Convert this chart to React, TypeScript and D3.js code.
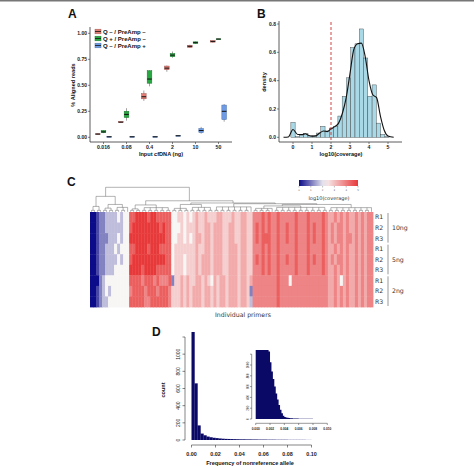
import React, { useRef, useEffect } from 'react';
import * as d3 from 'd3';

const W = 476;
const H = 466;
const SANS = 'Liberation Sans, Arial, sans-serif';
const DEJA = 'DejaVu Sans, sans-serif';

// ---- Panel A: % aligned reads by input cfDNA ----
const doses = ['0.016', '0.08', '0.4', '2', '10', '50'];
const conditions = ['Q – / PreAmp –', 'Q + / PreAmp –', 'Q – / PreAmp +'];
const condColors = ['#e27b72', '#27a641', '#6d9ce6'];
// [min, q1, median, q3, max] per dose
const boxQmPm = [[0.025, 0.028, 0.031, 0.034, 0.036], [0.14, 0.142, 0.146, 0.15, 0.152], [0.35, 0.37, 0.39, 0.42, 0.45], [0.63, 0.65, 0.665, 0.685, 0.69], [0.86, 0.865, 0.875, 0.885, 0.89], [0.91, 0.915, 0.922, 0.93, 0.932]];
const boxQpPm = [[0.04, 0.045, 0.052, 0.065, 0.068], [0.16, 0.19, 0.22, 0.25, 0.28], [0.49, 0.52, 0.56, 0.64, 0.645], [0.765, 0.775, 0.79, 0.805, 0.825], [0.9, 0.902, 0.91, 0.918, 0.92], [0.945, 0.945, 0.945, 0.946, 0.946]];
const boxQmPp = [[0.002, 0.003, 0.005, 0.006, 0.007], [0.002, 0.003, 0.005, 0.006, 0.007], [0.003, 0.004, 0.005, 0.006, 0.007], [0.012, 0.013, 0.015, 0.016, 0.017], [0.035, 0.045, 0.065, 0.085, 0.1], [0.15, 0.17, 0.25, 0.31, 0.32]];
const alignTicks = [0, 0.25, 0.5, 0.75, 1];

// ---- Panel B: coverage histogram + density ----
const covBinCenters = [0, 0.225, 0.45, 0.675, 0.9, 1.125, 1.35, 1.575, 1.8, 2.025, 2.25, 2.475, 2.7, 2.925, 3.15, 3.375, 3.6, 3.825, 4.05, 4.275, 4.5, 4.725, 4.95];
const covBinDensity = [0.105, 0.005, 0.015, 0.025, 0.01, 0.01, 0.03, 0.078, 0.045, 0.065, 0.075, 0.15, 0.29, 0.42, 0.635, 0.66, 0.765, 0.56, 0.29, 0.37, 0.1, 0.02, 0.005];
const covBinWidth = 0.225;
const densX = [-0.5, -0.25, 0, 0.25, 0.5, 0.65, 0.8, 1.0, 1.2, 1.4, 1.6, 1.8, 2.0, 2.2, 2.4, 2.6, 2.8, 3.0, 3.2, 3.4, 3.6, 3.8, 4.0, 4.2, 4.4, 4.6, 4.8, 5.0, 5.3];
const densY = [0, 0.002, 0.055, 0.02, 0.02, 0.025, 0.015, 0.008, 0.01, 0.03, 0.045, 0.04, 0.06, 0.075, 0.1, 0.17, 0.28, 0.45, 0.62, 0.66, 0.665, 0.57, 0.4, 0.3, 0.28, 0.15, 0.05, 0.01, 0];
const covTicksX = [0, 1, 2, 3, 4, 5];
const covTicksY = [0, 0.2, 0.4, 0.6, 0.8];
const covCutoff = 2;

// ---- Panel C: heatmap of primer coverage ----
const heatRowLabels = ['R1', 'R2', 'R3', 'R1', 'R2', 'R3', 'R1', 'R2', 'R3'];
const heatGroups = ['10ng', '5ng', '2ng'];
// one digit per primer column, 0 = low coverage ... 9 = high coverage
const heatLevels = [
  '001' + '2233334344' + '88999989988888' + '445545456556555665556556655' + '7778787787777787778777787' + '667676766767677',
  '001' + '2233333344' + '89999999998988' + '444545556556656665566556655' + '7878787787787787778787787' + '676776766767677',
  '001' + '2223334344' + '99999999999988' + '445545456656656665566556655' + '7878887787787787778787787' + '676776776767677',
  '001' + '2233343444' + '88999989998888' + '455555556556656665566656655' + '7778787787777787778777787' + '667676766767677',
  '001' + '2233334344' + '89999999999988' + '455545556566656665566656655' + '7878787787787787778787787' + '676776766767677',
  '001' + '2233344444' + '99998999988888' + '455545556566656665566656655' + '7778787787777787778777787' + '667676766767677',
  '000' + '2344444444' + '88887888787778' + '255656556656546566566656656' + '7777777787774777777777777' + '667646766767677',
  '001' + '2343444444' + '78888788878887' + '555656566656656566566656652' + '7777777787777777777777777' + '667676766767677',
  '001' + '2334444444' + '88888778888887' + '555656566656656566566656653' + '7777777787777777777777777' + '667676766767677',
];
const legendTicks = [0, 1, 2, 3, 4, 5];
// column clustering: r = range of columns merged at height h
const dendro = {
  h: 1, c: [
    { h: 0.63, c: [{ h: 0.22, r: [0, 3] }, { h: 0.3, c: [{ h: 0.15, r: [4, 7] }, { h: 0.18, r: [8, 12] }] }] },
    { h: 0.45, c: [
      { h: 0.28, c: [{ h: 0.12, r: [13, 16] }, { h: 0.17, r: [17, 26] }] },
      { h: 0.36, c: [
        { h: 0.3, c: [{ h: 0.14, r: [27, 32] }, { h: 0.18, r: [33, 40] }] },
        { h: 0.33, c: [
          { h: 0.2, r: [41, 53] },
          { h: 0.3, c: [{ h: 0.24, c: [{ h: 0.14, r: [54, 60] }, { h: 0.18, r: [61, 78] }] }, { h: 0.17, r: [79, 93] }] },
        ] },
      ] },
    ] },
  ],
};

// ---- Panel D: nonreference allele frequency ----
const freqBinWidth = 0.0025;
const freqCounts = [1500, 660, 170, 75, 55, 40, 32, 26, 22, 18, 15, 13, 12, 11, 10, 9, 8, 8, 7, 7, 6, 6, 5, 5, 5, 4, 4, 4, 3, 3, 3, 3, 2, 2, 2, 2, 2, 2, 1, 1];
const freqTicks = [0, 0.02, 0.04, 0.06, 0.08, 0.1];
const countTicks = [0, 200, 400, 600, 800, 1000, 1200];
const insetBinWidth = 0.0002;
const insetCounts = [1800, 2100, 2300, 2200, 2000, 1800, 1600, 1450, 1350, 1250, 1050, 880, 740, 600, 470, 360, 260, 170, 105, 60, 38, 28, 22, 18, 14, 12, 10, 9, 8, 7, 6, 6, 5, 5, 4, 4, 3, 3, 3, 3, 2, 2, 2, 2, 2, 1, 1, 1, 1, 1];
const insetTicks = [0, 0.002, 0.004, 0.006, 0.008, 0.01];

function label(g, txt, x, y, size) {
  g.append('text').attr('x', x).attr('y', y).text(txt)
    .attr('font-family', SANS).attr('font-weight', 'bold').attr('font-size', size).attr('fill', '#111');
}

function drawA(svg) {
  const g = svg.append('g');
  label(g, 'A', 68, 18, 12);
  const x = d3.scalePoint().domain(doses).range([92, 230]).padding(0.5);
  const dodge = d3.scaleBand().domain(conditions).range([-8.5, 8.5]);
  const y = d3.scaleLinear().domain([0, 1]).range([137.3, 33.3]);
  const ax = '#333';

  g.append('path').attr('d', 'M90,27V142H232').attr('fill', 'none').attr('stroke', ax).attr('stroke-width', 0.8);
  alignTicks.forEach(t => {
    g.append('line').attr('x1', 88).attr('x2', 90).attr('y1', y(t)).attr('y2', y(t)).attr('stroke', ax).attr('stroke-width', 0.6);
    g.append('text').attr('x', 87).attr('y', y(t) + 1.8).attr('text-anchor', 'end').text(d3.format('.2f')(t))
      .attr('font-family', SANS).attr('font-weight', 'bold').attr('font-size', 5).attr('fill', '#222');
  });
  doses.forEach(d => {
    g.append('line').attr('x1', x(d)).attr('x2', x(d)).attr('y1', 142).attr('y2', 144).attr('stroke', ax).attr('stroke-width', 0.6);
    g.append('text').attr('x', x(d)).attr('y', 148.8).attr('text-anchor', 'middle').text(d)
      .attr('font-family', SANS).attr('font-weight', 'bold').attr('font-size', 5.2).attr('fill', '#222');
  });
  g.append('text').attr('x', 161).attr('y', 155.5).attr('text-anchor', 'middle').text('Input cfDNA (ng)')
    .attr('font-family', SANS).attr('font-weight', 'bold').attr('font-size', 5.6).attr('fill', '#111');
  g.append('text').attr('transform', 'translate(75,85) rotate(-90)').attr('text-anchor', 'middle').text('% Aligned reads')
    .attr('font-family', SANS).attr('font-weight', 'bold').attr('font-size', 5.6).attr('fill', '#111');

  const sets = [boxQmPm, boxQpPm, boxQmPp];
  const bw = dodge.bandwidth() * 0.82;
  sets.forEach((set, i) => {
    const col = condColors[i];
    const dark = d3.color(col).darker(0.9).toString();
    set.forEach((s, j) => {
      const cx = x(doses[j]) + dodge(conditions[i]) + dodge.bandwidth() / 2;
      const [mn, q1, md, q3, mx] = s;
      g.append('line').attr('x1', cx).attr('x2', cx).attr('y1', y(mn)).attr('y2', y(mx)).attr('stroke', '#444').attr('stroke-width', 0.5);
      g.append('rect').attr('x', cx - bw / 2).attr('y', y(q3)).attr('width', bw).attr('height', Math.max(0.6, y(q1) - y(q3)))
        .attr('fill', col).attr('stroke', dark).attr('stroke-width', 0.5);
      g.append('line').attr('x1', cx - bw / 2).attr('x2', cx + bw / 2).attr('y1', y(md)).attr('y2', y(md)).attr('stroke', '#111').attr('stroke-width', 1);
    });
  });

  conditions.forEach((c, i) => {
    const ly = 31.5 + i * 7;
    const dark = d3.color(condColors[i]).darker(0.9).toString();
    g.append('rect').attr('x', 95).attr('y', ly - 2.3).attr('width', 6).attr('height', 4.6).attr('fill', condColors[i]).attr('stroke', dark).attr('stroke-width', 0.5);
    g.append('line').attr('x1', 95).attr('x2', 101).attr('y1', ly).attr('y2', ly).attr('stroke', '#111').attr('stroke-width', 0.8);
    g.append('text').attr('x', 103).attr('y', ly + 2.1).text(c)
      .attr('font-family', SANS).attr('font-weight', 'bold').attr('font-size', 6).attr('fill', '#111');
  });
}

function drawB(svg) {
  const g = svg.append('g');
  label(g, 'B', 257, 18, 12);
  const x = d3.scaleLinear().domain([0, 5]).range([293, 388]);
  const y = d3.scaleLinear().domain([0, 0.8]).range([137.3, 24]);
  const ax = '#333';

  covBinCenters.forEach((c, i) => {
    const x0 = x(c - covBinWidth / 2);
    const x1 = x(c + covBinWidth / 2);
    g.append('rect').attr('x', x0).attr('y', y(covBinDensity[i])).attr('width', x1 - x0).attr('height', y(0) - y(covBinDensity[i]))
      .attr('fill', '#a9d8e6').attr('stroke', '#3a3a3a').attr('stroke-width', 0.4);
  });
  const line = d3.line().x(d => x(d[0])).y(d => y(d[1])).curve(d3.curveMonotoneX);
  g.append('path').attr('d', line(densX.map((v, i) => [v, densY[i]]))).attr('fill', 'none').attr('stroke', '#111').attr('stroke-width', 1.1);
  g.append('line').attr('x1', x(covCutoff)).attr('x2', x(covCutoff)).attr('y1', 22).attr('y2', 142)
    .attr('stroke', '#c8302c').attr('stroke-width', 0.9).attr('stroke-dasharray', '3,2');

  g.append('path').attr('d', 'M279,21V142H402').attr('fill', 'none').attr('stroke', ax).attr('stroke-width', 0.8);
  covTicksY.forEach(t => {
    g.append('line').attr('x1', 277).attr('x2', 279).attr('y1', y(t)).attr('y2', y(t)).attr('stroke', ax).attr('stroke-width', 0.6);
    g.append('text').attr('x', 276).attr('y', y(t) + 1.8).attr('text-anchor', 'end').text(d3.format('.1f')(t))
      .attr('font-family', SANS).attr('font-weight', 'bold').attr('font-size', 5).attr('fill', '#222');
  });
  covTicksX.forEach(t => {
    g.append('line').attr('x1', x(t)).attr('x2', x(t)).attr('y1', 142).attr('y2', 144).attr('stroke', ax).attr('stroke-width', 0.6);
    g.append('text').attr('x', x(t)).attr('y', 148.8).attr('text-anchor', 'middle').text(t)
      .attr('font-family', SANS).attr('font-weight', 'bold').attr('font-size', 5.2).attr('fill', '#222');
  });
  g.append('text').attr('x', 341).attr('y', 155.5).attr('text-anchor', 'middle').text('log10(coverage)')
    .attr('font-family', SANS).attr('font-weight', 'bold').attr('font-size', 5.6).attr('fill', '#111');
  g.append('text').attr('transform', 'translate(266,82) rotate(-90)').attr('text-anchor', 'middle').text('density')
    .attr('font-family', SANS).attr('font-weight', 'bold').attr('font-size', 5.6).attr('fill', '#111');
}

function drawC(svg) {
  const g = svg.append('g');
  label(g, 'C', 67, 186, 12);
  const ncol = heatLevels[0].length;
  const x = d3.scaleBand().domain(d3.range(ncol)).range([90, 373]);
  const y = d3.scaleBand().domain(d3.range(heatLevels.length)).range([212, 307]);
  const color = d3.scaleLinear().domain([0, 2.2, 5]).range(['#0c0c8a', '#f8f6f6', '#e8393a']);
  const toCov = ch => (+ch) * 5 / 9;

  heatLevels.forEach((row, r) => {
    row.split('').forEach((ch, c) => {
      g.append('rect').attr('x', x(c)).attr('y', y(r)).attr('width', x.bandwidth() + 0.4).attr('height', y.bandwidth() + 0.4)
        .attr('fill', color(toCov(ch)));
    });
  });

  // dendrogram
  const dg = g.append('g').attr('stroke', '#666').attr('stroke-width', 0.5).attr('fill', 'none');
  const base = 211.8;
  const hy = h => base - h * 24.5;
  const xc = c => x(c) + x.bandwidth() / 2;
  const seg = (x1, y1, x2, y2) => dg.append('line').attr('x1', x1).attr('y1', y1).attr('x2', x2).attr('y2', y2);
  const leafH = 0.06;
  function node(n) {
    if (n.r) {
      const cols = d3.range(n.r[0], n.r[1] + 1);
      const tops = [];
      for (let i = 0; i < cols.length; i += 2) {
        const a = xc(cols[i]);
        if (i + 1 < cols.length) {
          const b = xc(cols[i + 1]);
          seg(a, base, a, hy(leafH)); seg(b, base, b, hy(leafH)); seg(a, hy(leafH), b, hy(leafH));
          tops.push({ x: (a + b) / 2, h: leafH });
        } else {
          tops.push({ x: a, h: 0 });
        }
      }
      tops.forEach(t => seg(t.x, hy(t.h), t.x, hy(n.h)));
      seg(tops[0].x, hy(n.h), tops[tops.length - 1].x, hy(n.h));
      return (tops[0].x + tops[tops.length - 1].x) / 2;
    }
    const kids = n.c.map(k => ({ x: node(k), h: k.h }));
    kids.forEach(k => seg(k.x, hy(k.h), k.x, hy(n.h)));
    seg(kids[0].x, hy(n.h), kids[kids.length - 1].x, hy(n.h));
    return (kids[0].x + kids[kids.length - 1].x) / 2;
  }
  node(dendro);

  // row labels and groups
  heatRowLabels.forEach((lab, r) => {
    g.append('text').attr('x', 375).attr('y', y(r) + y.bandwidth() / 2 + 2.2).text(lab)
      .attr('font-family', DEJA).attr('font-size', 6.2).attr('fill', '#333');
  });
  heatGroups.forEach((lab, i) => {
    const y0 = y(i * 3) + 1;
    const y1 = y(i * 3 + 2) + y.bandwidth() - 1;
    g.append('line').attr('x1', 388).attr('x2', 388).attr('y1', y0).attr('y2', y1).attr('stroke', '#555').attr('stroke-width', 0.6);
    g.append('text').attr('x', 392).attr('y', (y0 + y1) / 2 + 2.2).text(lab)
      .attr('font-family', DEJA).attr('font-size', 6.2).attr('fill', '#333');
  });
  g.append('text').attr('x', 243).attr('y', 316.5).attr('text-anchor', 'middle').text('Individual primers')
    .attr('font-family', DEJA).attr('font-size', 6.2).attr('fill', '#333');

  // color key
  const defs = svg.append('defs');
  const grad = defs.append('linearGradient').attr('id', 'covgrad');
  d3.range(0, 5.01, 0.5).forEach(v => grad.append('stop').attr('offset', `${v / 5 * 100}%`).attr('stop-color', color(v)));
  const lx = d3.scaleLinear().domain([0, 5]).range([299, 358]);
  g.append('rect').attr('x', 299).attr('y', 180).attr('width', 59).attr('height', 6).attr('fill', 'url(#covgrad)');
  legendTicks.forEach(t => {
    g.append('line').attr('x1', lx(t)).attr('x2', lx(t)).attr('y1', 186).attr('y2', 187.5).attr('stroke', '#555').attr('stroke-width', 0.4);
    g.append('text').attr('x', lx(t)).attr('y', 190.5).attr('text-anchor', 'middle').text(t)
      .attr('font-family', DEJA).attr('font-size', 2.5).attr('fill', '#555');
  });
  g.append('text').attr('x', 329).attr('y', 199.5).attr('text-anchor', 'middle').text('log10(coverage)')
    .attr('font-family', DEJA).attr('font-size', 5).attr('fill', '#333');
}

function drawD(svg) {
  const g = svg.append('g');
  label(g, 'D', 152, 336, 12);
  const navy = '#0a0a66';
  const ax = '#333';
  const x = d3.scaleLinear().domain([0, 0.1]).range([191.5, 311.5]);
  const y = d3.scaleLinear().domain([0, 1200]).range([440, 337]);

  const clipId = 'dclip';
  svg.append('defs').append('clipPath').attr('id', clipId).append('rect').attr('x', 185).attr('y', 332).attr('width', 135).attr('height', 110);
  const bars = g.append('g').attr('clip-path', `url(#${clipId})`);
  freqCounts.forEach((c, i) => {
    const x0 = x(i * freqBinWidth);
    const x1 = x((i + 1) * freqBinWidth);
    bars.append('rect').attr('x', x0).attr('y', y(c)).attr('width', x1 - x0 + 0.2).attr('height', y(0) - y(c)).attr('fill', navy);
  });
  g.append('line').attr('x1', 185).attr('x2', 185).attr('y1', y(0)).attr('y2', y(1200)).attr('stroke', ax).attr('stroke-width', 0.6);
  countTicks.forEach(t => {
    g.append('line').attr('x1', 182.5).attr('x2', 185).attr('y1', y(t)).attr('y2', y(t)).attr('stroke', ax).attr('stroke-width', 0.6);
    if (t <= 1000) {
      g.append('text').attr('transform', `translate(180,${y(t)}) rotate(-90)`).attr('text-anchor', 'middle').text(t)
        .attr('font-family', SANS).attr('font-size', 5).attr('fill', '#222');
    }
  });
  g.append('line').attr('x1', x(0)).attr('x2', x(0.1)).attr('y1', 445).attr('y2', 445).attr('stroke', ax).attr('stroke-width', 0.6);
  freqTicks.forEach(t => {
    g.append('line').attr('x1', x(t)).attr('x2', x(t)).attr('y1', 445).attr('y2', 447.5).attr('stroke', ax).attr('stroke-width', 0.6);
    g.append('text').attr('x', x(t)).attr('y', 456).attr('text-anchor', 'middle').text(d3.format('.2f')(t))
      .attr('font-family', SANS).attr('font-weight', 'bold').attr('font-size', 5.4).attr('fill', '#222');
  });
  g.append('text').attr('x', 250).attr('y', 465).attr('text-anchor', 'middle').text('Frequency of nonreference allele')
    .attr('font-family', SANS).attr('font-weight', 'bold').attr('font-size', 5.6).attr('fill', '#111');
  g.append('text').attr('transform', 'translate(165,390) rotate(-90)').attr('text-anchor', 'middle').text('count')
    .attr('font-family', SANS).attr('font-weight', 'bold').attr('font-size', 5.6).attr('fill', '#111');

  // inset: fine-binned histogram as a stepped area
  const ix = d3.scaleLinear().domain([0, 0.01]).range([255.7, 327.3]);
  const iy = d3.scaleLinear().domain([0, 1200]).range([419, 354.2]);
  const iclip = 'diclip';
  svg.append('defs').append('clipPath').attr('id', iclip).append('rect').attr('x', 252).attr('y', 350).attr('width', 82).attr('height', 70);
  const stepPts = insetCounts.map((c, i) => [i * insetBinWidth, c]);
  stepPts.push([insetCounts.length * insetBinWidth, insetCounts[insetCounts.length - 1]]);
  const area = d3.area().x(d => ix(d[0])).y0(iy(0)).y1(d => iy(d[1])).curve(d3.curveStepAfter);
  g.append('g').attr('clip-path', `url(#${iclip})`).append('path').attr('d', area(stepPts)).attr('fill', navy);
  g.append('line').attr('x1', 251.7).attr('x2', 251.7).attr('y1', iy(0)).attr('y2', iy(1200)).attr('stroke', ax).attr('stroke-width', 0.5);
  countTicks.forEach(t => {
    g.append('line').attr('x1', 250).attr('x2', 251.7).attr('y1', iy(t)).attr('y2', iy(t)).attr('stroke', ax).attr('stroke-width', 0.5);
    if (t <= 1000) {
      g.append('text').attr('transform', `translate(248.5,${iy(t)}) rotate(-90)`).attr('text-anchor', 'middle').text(t)
        .attr('font-family', SANS).attr('font-size', 3).attr('fill', '#222');
    }
  });
  g.append('line').attr('x1', ix(0)).attr('x2', ix(0.01)).attr('y1', 423.3).attr('y2', 423.3).attr('stroke', ax).attr('stroke-width', 0.5);
  insetTicks.forEach(t => {
    g.append('line').attr('x1', ix(t)).attr('x2', ix(t)).attr('y1', 423.3).attr('y2', 425).attr('stroke', ax).attr('stroke-width', 0.5);
    g.append('text').attr('x', ix(t)).attr('y', 429.5).attr('text-anchor', 'middle').text(d3.format('.3f')(t))
      .attr('font-family', SANS).attr('font-weight', 'bold').attr('font-size', 3.2).attr('fill', '#222');
  });
}

export default function App() {
  const svgRef = useRef(null);

  useEffect(() => {
    const svg = d3.select(svgRef.current);
    svg.selectAll('*').remove();
    svg.append('rect').attr('width', W).attr('height', H).attr('fill', '#fff');
    svg.append('line').attr('x1', 0).attr('x2', 474).attr('y1', 0.8).attr('y2', 0.8).attr('stroke', '#777').attr('stroke-width', 1.6);
    drawA(svg);
    drawB(svg);
    drawC(svg);
    drawD(svg);
  }, []);

  return (
    <svg ref={svgRef} width={W} height={H} style={{ position: 'absolute', left: 0, top: 0 }} />
  );
}
